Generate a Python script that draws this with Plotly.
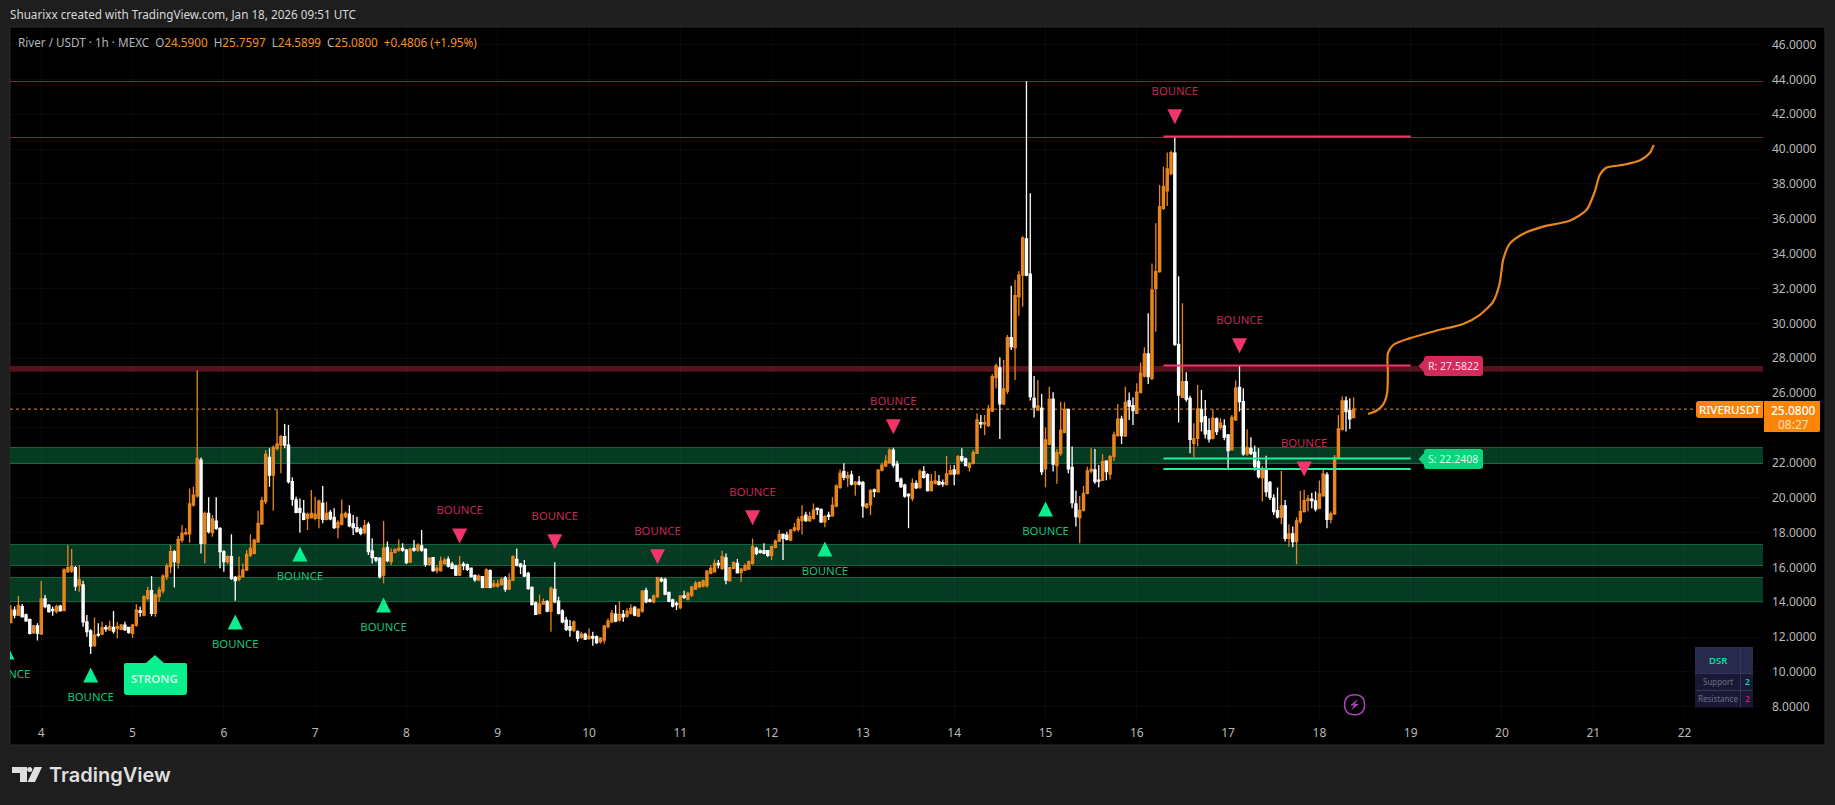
import pandas as pd
import plotly.graph_objects as go

# ---- data ----
START = pd.Timestamp("2026-01-03 16:00")

OPEN = [
12.83,13.55,13.27,13.75,13.27,13.02,12.25,12.64,12.18,14.19,
13.84,13.59,13.46,13.78,13.52,15.75,15.79,15.98,14.99,14.99,
12.88,12.35,11.51,12.16,12.18,12.54,12.41,12.56,12.5,12.45,
12.69,12.56,12.21,12.69,13.5,13.27,14.22,14.66,13.36,14.32,
14.66,15.47,16.04,16.9,16.27,17.57,17.92,17.92,19.58,20.1,
22.16,17.38,19.1,17.99,18.66,18.24,16.9,16.33,16.62,15.43,
15.31,15.47,15.85,16.71,16.81,17.47,18.49,19.77,22.31,21.3,
22.83,23.02,23.5,23.02,20.92,19.87,19.39,19.1,18.81,18.85,
18.81,18.81,19.67,18.76,19.16,18.87,18.28,18.49,18.91,19.06,
18.49,18.28,18.2,17.99,18.47,16.94,16.56,16.52,15.56,17.13,
16.33,16.86,16.99,17.09,16.99,16.31,17.09,16.99,17.24,17.03,
16.17,16.56,15.81,15.81,16.23,16.46,16.19,16.08,15.56,16.18,
16.14,15.95,15.52,15.28,15.47,14.85,15.81,14.93,14.93,15.02,
15.41,14.76,15.27,16.46,16.19,16.1,15.66,14.85,13.97,13.36,
13.9,14.03,13.49,14.74,14.07,13.51,12.98,12.6,12.4,12.31,
11.98,12.16,11.91,12.02,12.02,11.74,11.83,12.6,12.88,13.32,
12.98,13.3,13.2,13.36,13.7,13.2,13.49,14.66,14.13,14.03,
14.32,15.33,15.31,14.57,14.13,13.93,13.69,14.36,14.18,14.41,
14.76,14.89,14.93,14.95,15.66,15.75,16.23,15.94,16.55,15.23,
15.94,16.23,15.71,15.85,15.9,16.23,17.09,16.94,16.96,16.96,
16.69,17.15,17.51,17.89,17.85,17.57,18.14,18.18,18.68,19.0,
18.68,18.81,19.38,19.33,18.62,19.0,18.96,19.52,20.59,21.49,
21.14,21.3,20.78,20.91,20.86,19.44,19.59,20.44,20.34,21.58,
21.83,22.0,22.73,21.93,21.07,20.72,20.19,19.96,20.82,20.59,
21.49,21.32,20.4,20.82,20.92,20.86,20.77,21.36,21.59,21.4,
22.35,22.22,21.74,21.97,22.55,24.3,24.23,24.13,24.97,26.89,
27.44,25.38,26.12,29.18,28.6,31.53,32.77,34.84,32.83,25.7,
25.03,25.13,21.65,23.08,25.66,21.84,22.55,23.73,25.07,21.74,
19.64,18.85,19.29,20.25,21.53,21.59,21.0,21.0,22.1,21.36,
22.35,23.56,24.5,23.54,25.55,25.28,24.84,26.03,26.98,28.25,
26.85,32.0,32.97,36.6,37.6,38.6,39.76,28.8,25.76,26.66,
25.7,23.12,23.41,25.07,24.65,23.85,23.41,24.52,24.04,24.12,
23.6,22.74,24.46,26.32,25.51,22.51,22.83,22.6,22.07,21.15,
21.55,20.88,19.97,19.26,18.88,19.53,17.67,17.92,17.48,18.63,
19.2,19.83,19.91,19.81,19.39,20.1,21.3,18.76,19.07,22.3,
23.92,25.55,24.99,24.59]

CLOSE = [
13.55,13.27,13.82,13.17,12.94,12.21,12.64,12.21,14.19,13.75,
13.46,13.52,13.75,13.52,15.85,15.98,16.04,14.93,15.28,12.88,
12.31,11.49,12.12,12.12,12.54,12.47,12.6,12.35,12.6,12.69,
12.41,12.27,12.69,13.55,13.42,14.32,14.66,13.36,14.41,14.7,
15.5,16.08,16.9,16.33,17.61,17.95,17.99,19.64,20.15,22.26,
17.38,19.1,18.05,18.78,18.24,16.9,16.33,16.62,15.37,15.24,
15.5,15.85,16.75,17.09,17.57,18.53,19.83,22.5,21.3,22.89,
23.08,23.5,23.02,20.92,19.92,19.16,19.16,18.76,19.04,19.1,
19.06,19.8,18.76,19.1,18.78,18.28,18.58,19.06,19.1,18.39,
18.28,18.05,17.95,18.39,16.9,16.56,16.42,15.47,17.09,16.39,
16.84,17.03,17.09,16.99,16.27,17.05,16.99,17.28,16.99,16.17,
16.52,15.81,15.95,16.35,16.42,16.08,15.95,15.56,16.14,16.1,
15.89,15.47,15.28,15.5,14.85,15.85,14.85,15.05,15.05,15.31,
14.76,15.27,16.61,16.13,16.04,15.5,14.8,13.88,13.3,13.9,
14.03,13.49,14.8,14.03,13.36,12.88,12.44,12.4,12.88,11.93,
12.17,11.89,12.06,11.95,11.68,11.93,12.63,12.92,13.36,12.92,
13.3,13.17,13.49,13.65,13.27,13.59,14.64,14.03,14.05,14.37,
15.41,15.23,14.47,14.07,13.78,13.86,14.37,14.28,14.51,14.87,
15.08,15.14,15.22,15.79,15.94,16.23,16.15,16.61,15.27,15.98,
16.27,15.69,15.9,16.1,16.33,17.19,16.8,16.86,16.8,16.69,
17.19,17.51,17.89,17.66,17.61,18.14,18.26,18.75,18.91,18.68,
18.91,19.29,19.31,18.62,18.91,18.93,19.56,20.67,21.39,21.16,
21.26,20.78,20.88,20.78,19.52,19.63,20.4,20.36,21.58,21.87,
22.1,22.73,21.87,20.95,20.63,20.09,20.11,20.82,20.57,21.49,
21.16,20.4,20.92,20.96,20.77,20.79,21.36,21.55,21.36,22.35,
22.16,21.84,21.97,22.58,24.46,24.23,24.3,25.09,26.94,27.56,
25.38,26.24,29.18,28.67,31.59,32.77,34.9,32.77,25.8,25.2,
25.26,21.49,23.31,25.64,21.93,22.58,23.88,25.07,21.65,19.72,
18.91,19.29,20.25,21.53,21.63,20.92,20.95,22.07,21.5,22.35,
23.6,24.5,23.56,25.47,25.26,25.0,26.05,27.14,28.25,26.94,
31.92,32.97,36.7,37.84,38.86,39.8,28.8,25.89,26.66,25.65,
23.35,23.37,25.09,24.36,23.66,23.37,24.56,23.79,24.27,23.47,
22.7,24.61,26.28,25.51,22.51,22.89,22.55,21.78,21.21,21.59,
20.35,20.02,19.2,18.9,19.53,17.67,17.92,17.48,18.67,19.2,
19.83,19.93,19.83,19.35,20.21,21.36,18.76,19.07,22.3,23.94,
25.55,24.94,24.52,25.08]

HIGH = [
13.84,13.75,14.36,13.9,13.35,13.05,12.7,12.79,15.22,14.41,
13.9,13.75,13.85,13.85,15.95,17.28,17.05,16.08,16.14,15.24,
13.27,12.45,13.13,12.79,12.88,12.7,12.94,13.5,12.88,12.75,
12.88,12.6,12.75,13.9,13.75,14.4,14.89,15.5,14.5,14.89,
15.6,16.23,17.28,17.0,17.8,18.43,18.24,20.53,20.63,27.3,
22.3,19.2,20.02,19.0,20.02,18.3,17.0,16.7,17.9,15.5,
16.62,16.23,17.0,17.9,17.65,19.25,20.06,22.73,22.83,23.0,
25.07,23.6,24.23,24.17,21.17,20.06,19.96,19.87,19.15,20.44,
20.06,19.9,20.67,19.77,19.29,19.39,18.7,19.9,19.2,19.56,
19.0,18.91,18.3,18.72,18.6,17.67,16.6,16.6,18.66,17.48,
17.09,17.09,17.61,17.38,17.05,17.13,17.57,17.38,18.14,17.1,
16.6,16.6,16.14,16.62,16.56,16.62,16.33,16.15,16.65,16.33,
16.23,16.0,15.6,15.6,15.5,15.95,15.9,15.28,15.28,15.4,
15.5,15.66,16.7,17.09,16.25,16.42,15.75,14.9,14.05,14.45,
14.22,14.13,14.9,16.29,14.32,13.6,13.17,12.98,12.95,12.4,
12.31,12.25,12.5,12.31,12.1,12.0,12.7,13.07,13.55,13.84,
14.07,13.55,13.65,13.88,13.78,13.65,14.7,14.83,14.22,14.45,
15.46,15.43,15.41,14.6,14.2,14.03,14.4,14.66,14.6,14.95,
15.22,15.2,15.3,15.85,16.13,16.46,16.42,16.96,16.8,16.05,
16.35,16.48,16.0,16.23,16.4,17.66,17.19,17.03,17.38,17.0,
17.25,17.6,18.14,17.95,18.05,18.2,18.56,18.91,19.56,19.19,
19.19,19.67,19.44,19.38,19.0,19.19,20.02,20.75,21.62,21.97,
21.49,21.55,20.95,21.24,20.95,19.7,20.5,20.53,21.65,22.0,
22.44,22.83,22.87,22.12,21.16,20.8,20.25,21.1,21.0,21.64,
21.81,21.4,21.36,21.53,21.3,21.05,22.39,21.88,21.87,22.45,
22.83,22.3,22.05,22.74,24.84,24.75,24.75,25.32,27.1,27.7,
28.05,27.9,29.33,32.16,32.5,33.0,35.0,43.89,37.46,26.98,
26.75,25.95,24.02,26.37,26.05,22.8,25.5,25.47,25.1,22.93,
20.4,20.1,20.67,21.78,22.83,22.79,21.88,22.49,22.15,22.45,
23.8,25.38,24.7,26.37,26.03,25.76,26.56,27.75,28.63,30.58,
33.44,35.74,37.94,38.99,39.8,39.9,40.67,32.7,31.15,27.2,
25.85,24.27,26.47,26.18,25.6,24.56,25.07,24.6,24.56,24.5,
23.66,24.75,26.72,27.56,26.28,23.92,23.47,23.0,22.83,21.8,
22.4,20.95,20.2,20.58,21.53,19.87,18.47,18.34,18.88,20.4,
20.44,20.16,20.29,20.35,20.98,21.69,21.46,19.2,22.45,24.75,
25.8,25.8,25.7,25.7597]

LOW = [
12.79,13.08,13.21,13.13,12.88,12.15,12.2,11.8,12.15,13.65,
13.4,13.23,13.35,13.45,13.5,15.7,15.7,14.66,14.6,12.6,
12.02,11.03,11.45,12.02,12.12,12.31,12.37,12.21,11.93,12.4,
12.35,12.2,11.97,12.6,13.17,13.2,14.1,13.2,13.17,14.03,
14.5,15.28,15.66,14.85,15.93,17.42,17.85,17.42,19.5,20.0,
16.8,16.23,17.95,17.76,18.15,15.95,15.75,16.2,15.28,14.09,
15.2,15.4,15.8,16.6,16.75,17.4,18.45,19.62,20.63,19.25,
22.7,21.4,22.83,20.82,19.54,19.1,17.99,18.7,18.15,18.8,
18.7,18.24,18.53,18.7,18.7,18.2,17.67,18.4,18.8,18.3,
17.86,18.0,17.85,17.9,16.71,16.23,16.3,15.37,15.09,16.3,
16.14,16.8,16.9,16.9,16.2,16.25,16.9,16.9,16.9,16.04,
16.1,15.75,15.66,15.75,16.15,16.0,15.9,15.5,15.5,15.85,
15.8,15.4,15.18,15.2,14.8,14.8,14.8,14.85,14.85,14.95,
14.6,14.7,15.2,16.05,15.62,15.45,14.7,13.8,13.27,13.3,
13.85,13.42,12.31,13.95,13.3,12.79,12.35,12.02,12.3,11.74,
11.9,11.83,11.85,11.5,11.6,11.64,11.64,12.5,12.8,12.85,
12.9,12.88,13.1,13.3,13.2,13.15,13.4,13.95,13.99,13.95,
14.25,15.15,14.4,14.0,13.7,13.55,13.6,14.18,14.1,14.3,
14.7,14.8,14.85,14.83,15.6,15.7,15.94,15.85,15.04,15.2,
15.9,15.65,15.18,15.8,15.85,16.15,16.7,16.8,16.75,16.6,
16.42,17.1,17.45,16.42,17.55,17.5,18.05,18.05,17.89,18.6,
18.6,18.75,19.0,18.55,18.3,18.72,18.9,19.45,20.5,21.0,
20.63,20.7,20.11,20.7,18.85,19.38,19.0,20.02,20.3,21.5,
21.75,21.95,21.72,20.9,20.55,20.0,18.24,19.8,20.5,20.5,
21.1,20.35,20.35,20.75,20.7,20.63,20.7,21.3,20.72,21.3,
22.05,21.8,21.5,21.9,22.5,23.98,23.6,24.05,24.9,26.27,
23.37,25.3,25.95,28.47,26.75,30.42,30.95,32.7,25.57,24.6,
25.0,21.3,20.6,23.0,21.5,20.8,22.4,23.7,21.4,19.39,
18.34,17.38,19.2,20.2,21.4,20.8,20.6,20.95,21.0,21.05,
22.1,23.5,23.08,23.5,24.46,24.17,24.8,26.0,26.9,26.52,
26.75,29.52,32.9,36.5,36.73,38.5,28.7,24.31,25.7,25.5,
22.55,22.3,22.93,23.79,23.4,23.16,23.35,23.6,23.9,23.3,
21.69,22.7,24.4,24.94,22.4,22.4,22.45,21.55,21.1,19.78,
20.06,19.87,19.0,18.8,18.47,17.48,17.19,17.15,16.18,18.5,
19.15,19.2,19.39,19.2,19.35,20.05,18.24,18.53,19.0,22.25,
23.85,23.79,23.94,24.5899]

# forecast path drawn on the chart (hours from START, price)
FORECAST_H = [356.8,359.0,360.7,361.8,362.0,362.0,363.4,367.7,374.7,381.8,386.1,389.7,391.4,
              392.3,394.0,397.5,402.8,409.8,414.2,416.4,417.7,419.4,423.8,428.2,430.8,431.9]
FORECAST_P = [24.80,24.99,25.32,25.99,27.13,28.28,28.76,29.14,29.58,29.97,30.48,31.25,32.30,
              33.64,34.56,35.13,35.55,35.89,36.50,37.56,38.51,38.93,39.09,39.34,39.76,40.24]

# BOUNCE signals (hour index, price of the triangle)
SUP_H = [-1, 21, 59, 76, 98, 214, 272]
SUP_P = [11.15, 9.83, 12.87, 16.77, 13.84, 17.05, 19.35]
RES_H = [118, 143, 170, 195, 232, 306, 323, 340]
RES_P = [17.80, 17.47, 16.61, 18.85, 24.07, 41.86, 28.72, 21.65]

ZONES_GREEN = [(21.96, 22.88), (16.11, 17.31), (14.04, 15.42)]
ZONE_RED = (27.23, 27.55)
H_LINES = [43.877, 40.665]
R_LEVELS = [40.72, 27.5822]
S_LEVELS = [22.2408, 21.65]
LEVEL_FROM_H, LEVEL_TO_H = 303, 368
LAST_PRICE = 25.08

Y_TICKS = list(range(8, 48, 2))
Y_TICK_TEXT = ["" if v == 24 else f"{v:.4f}" for v in Y_TICKS]  # 24 sits under the price tag

UP = "#e8851c"
DOWN = "#ffffff"
BG = "#1e1e1e"
GREEN = "#08ee8e"
PINK = "#f2356a"
FONT = "Noto Sans"

# ---- page layout (page pixels) ----
W, H = 1835, 805
L, R, T, B = 10, 1763, 27, 722
PPH = 3.804      # pixels per hour
X0_PX = 10.8     # page x of the first candle
Y46_PX, PPU = 44.5, 17.43


def hdate(h):
    return START + pd.Timedelta(hours=float(h))


def px(x):
    return (x - L) / (R - L)


def py(y):
    return (B - y) / (B - T)


times = [hdate(i) for i in range(len(OPEN))]
x_range = [hdate((L - X0_PX) / PPH), hdate((R - X0_PX) / PPH)]
y_range = [46 - (B - Y46_PX) / PPU, 46 - (T - Y46_PX) / PPU]

shapes, notes = [], []


def page_path(d, fill, line=None, lw=0, layer="above"):
    """Path given in page pixels (x, -y)."""
    shapes.append(dict(type="path", xref="paper", yref="paper", xsizemode="pixel", ysizemode="pixel",
                       xanchor=px(0), yanchor=py(0), path=d, fillcolor=fill, layer=layer,
                       line=dict(color=line or fill, width=lw)))


def round_box(x0, y0, x1, y1, rad=(3, 3, 3, 3)):
    tl, tr, br, bl = rad
    return (f"M {x0+tl} {-y0} L {x1-tr} {-y0} Q {x1} {-y0} {x1} {-(y0+tr)} L {x1} {-(y1-br)} "
            f"Q {x1} {-y1} {x1-br} {-y1} L {x0+bl} {-y1} Q {x0} {-y1} {x0} {-(y1-bl)} "
            f"L {x0} {-(y0+tl)} Q {x0} {-y0} {x0+tl} {-y0} Z")


def note(x, y, text, size, color, anchor="center", font=FONT, weight=None):
    f = dict(size=size, color=color, family=font)
    if weight:
        f["weight"] = weight
    notes.append(dict(xref="paper", yref="paper", x=px(x), y=py(y), text=text, showarrow=False,
                      xanchor=anchor, yanchor="middle", font=f, borderpad=0, borderwidth=0))


# pane
page_path("M 10 -27 L 1825 -27 L 1825 -745 L 10 -745 Z", "#000000", "#2b2b2b", 1, layer="below")

# zones and lines
for lo, hi in ZONES_GREEN:
    shapes.append(dict(type="rect", xref="paper", x0=0, x1=1, yref="y", y0=lo, y1=hi, layer="below",
                       fillcolor="#053a23", line=dict(width=0)))
    for v in (lo, hi):
        shapes.append(dict(type="line", xref="paper", x0=0, x1=1, yref="y", y0=v, y1=v, layer="below",
                           line=dict(color="#12693f", width=1)))
shapes.append(dict(type="rect", xref="paper", x0=0, x1=1, yref="y", y0=ZONE_RED[0], y1=ZONE_RED[1],
                   layer="below", fillcolor="#55121c", line=dict(width=0)))
for v in H_LINES:
    shapes.append(dict(type="line", xref="paper", x0=0, x1=1, yref="y", y0=v, y1=v, layer="below",
                       line=dict(color="#7a2a2e", width=1)))
shapes.append(dict(type="line", xref="paper", x0=0, x1=1, yref="y", y0=LAST_PRICE, y1=LAST_PRICE, layer="below",
                   line=dict(color="#d88a3a", width=1, dash="dot")))
for v in R_LEVELS:
    shapes.append(dict(type="line", x0=hdate(LEVEL_FROM_H), x1=hdate(LEVEL_TO_H), y0=v, y1=v,
                       line=dict(color=PINK, width=2)))
for v in S_LEVELS:
    shapes.append(dict(type="line", x0=hdate(LEVEL_FROM_H), x1=hdate(LEVEL_TO_H), y0=v, y1=v,
                       line=dict(color="#1ff09a", width=2)))

# triangles: data-anchored with pixel outline
for h, p in zip(SUP_H, SUP_P):
    shapes.append(dict(type="path", xsizemode="pixel", ysizemode="pixel", xanchor=hdate(h), yanchor=p,
                       path="M -7.5 -7.5 L 7.5 -7.5 L 0 7.5 Z", fillcolor=GREEN, line=dict(width=0)))
for h, p in zip(RES_H, RES_P):
    shapes.append(dict(type="path", xsizemode="pixel", ysizemode="pixel", xanchor=hdate(h), yanchor=p,
                       path="M -7.5 7.5 L 7.5 7.5 L 0 -7.5 Z", fillcolor=PINK, line=dict(width=0)))

fig = go.Figure()
fig.add_trace(go.Candlestick(x=times, open=OPEN, high=HIGH, low=LOW, close=CLOSE, whiskerwidth=0,
                             increasing=dict(line=dict(color=UP, width=1.3), fillcolor=UP),
                             decreasing=dict(line=dict(color=DOWN, width=1.3), fillcolor=DOWN),
                             hoverinfo="none", showlegend=False))
fig.add_trace(go.Scatter(x=[hdate(h) for h in FORECAST_H], y=FORECAST_P, mode="lines",
                         line=dict(color=UP, width=2.2, shape="spline", smoothing=0.7),
                         hoverinfo="skip", showlegend=False))
fig.add_trace(go.Scatter(x=[hdate(h) for h in SUP_H], y=[p - 1.32 for p in SUP_P], mode="text",
                         text=["BOUNCE"] * len(SUP_H), textposition="middle center",
                         textfont=dict(size=11.3, color="#17c47d", family=FONT), hoverinfo="skip", showlegend=False))
fig.add_trace(go.Scatter(x=[hdate(h) for h in RES_H], y=[p + 1.43 for p in RES_P], mode="text",
                         text=["BOUNCE"] * len(RES_H), textposition="middle center",
                         textfont=dict(size=11.3, color="#c22a55", family=FONT), hoverinfo="skip", showlegend=False))

# STRONG label
page_path(round_box(124, 663, 187, 695, (2, 2, 3, 3)) + " M 146 -663 L 155 -655 L 164 -663 Z", "#0bf08e")
note(154.5, 678, "STRONG", 11.5, "#d5fbe9", weight=600)

# R / S labels
page_path(round_box(1424, 356, 1483, 376) + " M 1424 -360 L 1418.5 -366 L 1424 -372 Z", "#d42a5b")
note(1453, 366, "R: 27.5822", 10.5, "#f6dfe6")
page_path(round_box(1424, 449, 1483, 469) + " M 1424 -453 L 1418.5 -459 L 1424 -465 Z", "#0bd47c")
note(1453, 459, "S: 22.2408", 10.5, "#d8f7e9")

# last price labels
page_path(round_box(1696, 401, 1763, 418, (3, 0, 0, 3)), "#fb8508")
note(1729.5, 409.5, "RIVERUSDT", 11.5, "#ffffff", weight=500)
page_path(round_box(1764, 401, 1820, 432, (0, 0, 2, 0)), "#fb8508")
note(1793, 410, "25.0800", 12, "#ffffff", weight=500)
note(1793, 424, "08:27", 12, "#fde0bd")

# DSR table
page_path("M 1695 -647 L 1753 -647 L 1753 -673.5 L 1695 -673.5 Z", "#29294b")
page_path("M 1695 -673.5 L 1753 -673.5 L 1753 -707.5 L 1695 -707.5 Z", "#191935")
for d in ("M 1695 -673.5 L 1753 -673.5", "M 1695 -690.5 L 1753 -690.5", "M 1740.5 -647 L 1740.5 -707.5"):
    page_path(d, "rgba(0,0,0,0)", "#34345a", 1)
note(1718, 660.5, "DSR", 9.5, "#14d9a2", weight=600)
note(1718, 681.5, "Support", 8, "#6d7084")
note(1718, 698.5, "Resistance", 8, "#6d7084")
note(1747, 681.5, "2", 8.5, "#14d9a2", weight=600)
note(1747, 698.5, "2", 8.5, "#bb2468", weight=600)

# lightning icon
page_path("M 1354.6 -694.7 Q 1364.6 -694.7 1364.6 -704.7 Q 1364.6 -714.7 1354.6 -714.7 "
          "Q 1344.6 -714.7 1344.6 -704.7 Q 1344.6 -694.7 1354.6 -694.7 Z", "rgba(0,0,0,0)", "#a544b5", 1.5)
page_path("M 1358 -699 L 1350 -705.5 L 1354 -705.5 L 1351 -710.5 L 1359 -704 L 1355 -704 Z", "#a544b5")

# header text
note(10, 14.5, "Shuarixx created with TradingView.com, Jan 18, 2026 09:51 UTC", 11.7, "#d8d8d8", anchor="left")
O_ = "#f7931a"
G_ = "#b2b5be"
note(18, 41.5, f'<span style="color:{G_}">River / USDT · 1h · MEXC  O</span><span style="color:{O_}">24.5900</span>'
             f'<span style="color:{G_}">  H</span><span style="color:{O_}">25.7597</span>'
             f'<span style="color:{G_}">  L</span><span style="color:{O_}">24.5899</span>'
             f'<span style="color:{G_}">  C</span><span style="color:{O_}">25.0800</span>'
             f'<span style="color:{O_}">  +0.4806 (+1.95%)</span>', 11.7, G_, anchor="left")

# TradingView logo
page_path("M 12 -767 L 27 -767 L 27 -782 L 20 -782 L 20 -773 L 12 -773 Z", "#dfdfdf")
page_path("M 29.7 -767 Q 32.2 -767 32.2 -769.5 Q 32.2 -772 29.7 -772 Q 27.2 -772 27.2 -769.5 Q 27.2 -767 29.7 -767 Z", "#dfdfdf")
page_path("M 34.5 -767 L 42 -767 L 35 -782 L 27.5 -782 Z", "#dfdfdf")
note(49, 775, "TradingView", 20, "#dfdfdf", anchor="left", font="Inter", weight=600)

axis_font = dict(size=12, color="#b9b9b9", family=FONT)
GRID = "rgba(255,255,255,0.035)"
fig.update_layout(
    width=W, height=H, margin=dict(l=L, r=W - R, t=T, b=H - B, pad=0),
    paper_bgcolor=BG, plot_bgcolor="#000000", showlegend=False, hovermode=False,
    shapes=shapes, annotations=notes, dragmode=False, boxgap=0.2,
    xaxis=dict(type="date", range=x_range, rangeslider=dict(visible=False), tickformat="%-d",
               dtick=86400000, tick0="2026-01-04", showline=False, zeroline=False, ticks="",
               gridcolor=GRID, gridwidth=1, tickfont=axis_font, ticklabelstandoff=2),
    yaxis=dict(range=y_range, side="right", tickmode="array", tickvals=Y_TICKS,
               ticktext=Y_TICK_TEXT, showline=False, zeroline=False, ticks="",
               gridcolor=GRID, gridwidth=1, tickfont=axis_font, ticklabelstandoff=8),
)

fig.write_html("out.html", config=dict(displayModeBar=False, responsive=False),
               post_script="document.body.style.margin='0';document.body.style.background='#1e1e1e';"
                           "document.body.style.overflow='hidden';")
